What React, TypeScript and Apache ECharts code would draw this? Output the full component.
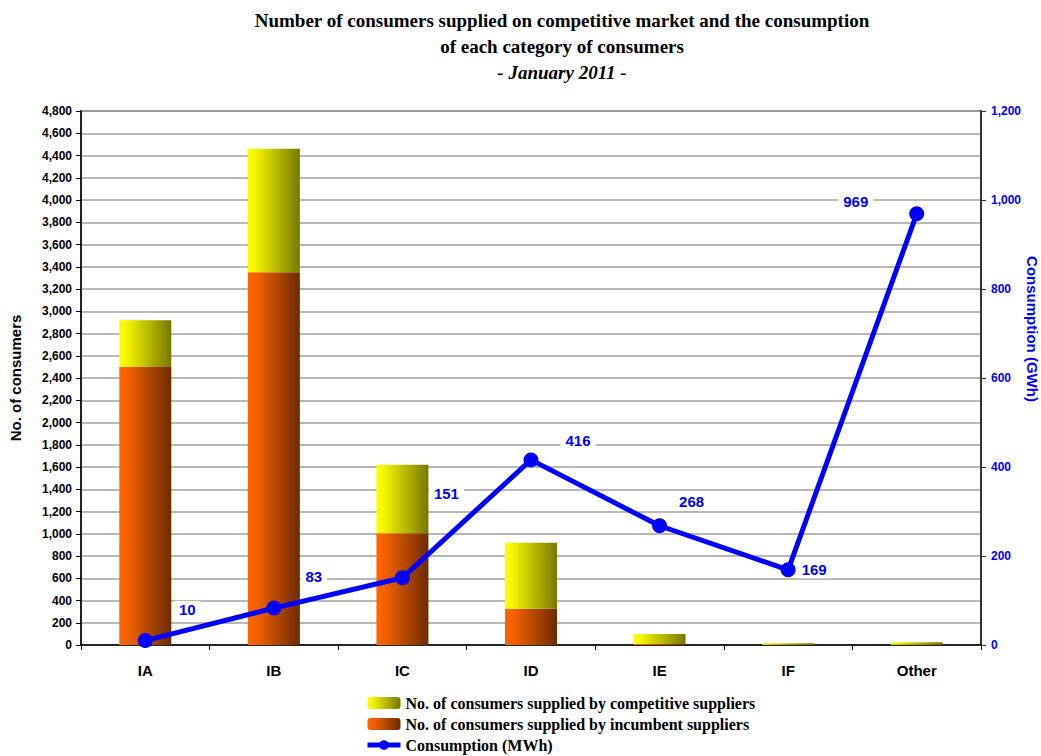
import React, { useEffect, useRef } from "react";
import * as echarts from "echarts";

// Consumer categories on the x axis
const categories = ["IA", "IB", "IC", "ID", "IE", "IF", "Other"];
// Number of consumers supplied by incumbent suppliers
const incumbent = [2500, 3350, 1005, 325, 8, 2, 3];
// Number of consumers supplied by competitive suppliers
const competitive = [420, 1110, 615, 595, 92, 13, 22];
// Consumption per category (GWh)
const consumption = [10, 83, 151, 416, 268, 169, 969];
// Label offsets (px) for the consumption values
const labelOffsets: [number, number][] = [
  [42, -31],
  [40, -32],
  [44, -84],
  [47, -19],
  [32, -24],
  [26, 0],
  [-61, -12],
];

const SANS = "'Liberation Sans', Arial, sans-serif";
const SERIF = "'Liberation Serif', 'Times New Roman', serif";
const BLUE = "#0000ff";

const hGradient = (stops: [number, string][]) =>
  new echarts.graphic.LinearGradient(
    0,
    0,
    1,
    0,
    stops.map(([offset, color]) => ({ offset, color }))
  );

export default function App() {
  const ref = useRef<HTMLDivElement>(null);

  useEffect(() => {
    if (!ref.current) return;
    const chart = echarts.init(ref.current, undefined, { renderer: "svg" });

    const fmt = (v: number) => v.toLocaleString("en-US");
    const titleStyle = {
      fontFamily: SERIF,
      fontWeight: "bold",
      fontSize: 19,
      fill: "#000",
      align: "center",
      verticalAlign: "middle",
    };

    chart.setOption({
      animation: false,
      backgroundColor: "#ffffff",
      legend: {
        orient: "vertical",
        left: 365,
        top: 694,
        height: 70,
        padding: 0,
        itemWidth: 33,
        itemHeight: 12,
        itemGap: 3,
        data: [
          "No. of consumers supplied by competitive suppliers",
          "No. of consumers supplied by incumbent suppliers",
          { name: "Consumption (MWh)", lineStyle: { width: 5 } },
        ],
        textStyle: {
          fontFamily: SERIF,
          fontWeight: "bold",
          fontSize: 16,
          lineHeight: 18,
          color: "#000",
        },
      },
      grid: {
        left: 76,
        right: 60,
        top: 111,
        bottom: 111,
        show: true,
        borderColor: "#555",
        borderWidth: 1.5,
        backgroundColor: "transparent",
      },
      xAxis: {
        type: "category",
        data: categories,
        boundaryGap: true,
        axisLine: { lineStyle: { color: "#000", width: 1.5 } },
        axisTick: { show: true, length: 5, lineStyle: { color: "#000" } },
        axisLabel: {
          fontFamily: SANS,
          fontWeight: "bold",
          fontSize: 15,
          color: "#000",
          margin: 18,
        },
      },
      yAxis: [
        {
          type: "value",
          min: 0,
          max: 4800,
          interval: 200,
          name: "No. of consumers",
          nameLocation: "middle",
          nameGap: 58,
          nameTextStyle: {
            fontFamily: SANS,
            fontWeight: "bold",
            fontSize: 15,
            color: "#000",
          },
          axisLine: { show: true, lineStyle: { color: "#000", width: 1.5 } },
          axisTick: { show: true, length: 5, lineStyle: { color: "#000" } },
          axisLabel: {
            fontFamily: SANS,
            fontWeight: "bold",
            fontSize: 12,
            color: "#000",
            margin: 9,
            formatter: fmt,
          },
          splitLine: {
            show: true,
            lineStyle: { color: "#a0a0a0", width: 1.5 },
          },
        },
        {
          type: "value",
          min: 0,
          max: 1200,
          interval: 200,
          position: "right",
          axisLine: { show: true, lineStyle: { color: "#333", width: 2 } },
          axisTick: { show: true, length: 5, lineStyle: { color: "#333" } },
          axisLabel: {
            fontFamily: SANS,
            fontWeight: "bold",
            fontSize: 12,
            color: BLUE,
            margin: 10,
            formatter: fmt,
          },
          splitLine: { show: false },
        },
      ],
      graphic: [
        {
          type: "text",
          x: 562,
          y: 20,
          style: {
            ...titleStyle,
            text: "Number of consumers supplied on competitive market and the consumption",
          },
        },
        {
          type: "text",
          x: 562,
          y: 46,
          style: { ...titleStyle, text: "of each category of consumers" },
        },
        {
          type: "text",
          x: 562,
          y: 72,
          style: { ...titleStyle, fontStyle: "italic", text: "- January 2011 -" },
        },
        {
          type: "text",
          x: 1032,
          y: 329,
          rotation: -Math.PI / 2,
          style: {
            text: "Consumption (GWh)",
            fontFamily: SANS,
            fontWeight: "bold",
            fontSize: 15,
            fill: BLUE,
            align: "center",
            verticalAlign: "middle",
          },
        },
      ],
      series: [
        {
          name: "No. of consumers supplied by incumbent suppliers",
          type: "bar",
          stack: "consumers",
          barWidth: 52,
          data: incumbent,
          itemStyle: {
            color: hGradient([
              [0, "#ff6600"],
              [0.15, "#f66200"],
              [1, "#6b2b00"],
            ]),
          },
        },
        {
          name: "No. of consumers supplied by competitive suppliers",
          type: "bar",
          stack: "consumers",
          barWidth: 52,
          data: competitive,
          itemStyle: {
            color: hGradient([
              [0, "#ffff00"],
              [0.15, "#f4f400"],
              [1, "#777700"],
            ]),
          },
        },
        {
          name: "Consumption (MWh)",
          type: "line",
          yAxisIndex: 1,
          symbol: "circle",
          symbolSize: 15,
          lineStyle: { color: BLUE, width: 5 },
          itemStyle: { color: BLUE },
          data: consumption.map((v, i) => ({
            value: v,
            label: {
              show: true,
              position: "inside",
              offset: labelOffsets[i],
              formatter: "{c}",
              fontFamily: SANS,
              fontWeight: "bold",
              fontSize: 15,
              color: BLUE,
              backgroundColor: "#ffffff",
              padding: [1, 5],
            },
          })),
          z: 5,
        },
      ],
    });

    return () => chart.dispose();
  }, []);

  return (
    <div
      ref={ref}
      style={{ position: "fixed", left: 0, top: 0, width: 1041, height: 756 }}
    />
  );
}
